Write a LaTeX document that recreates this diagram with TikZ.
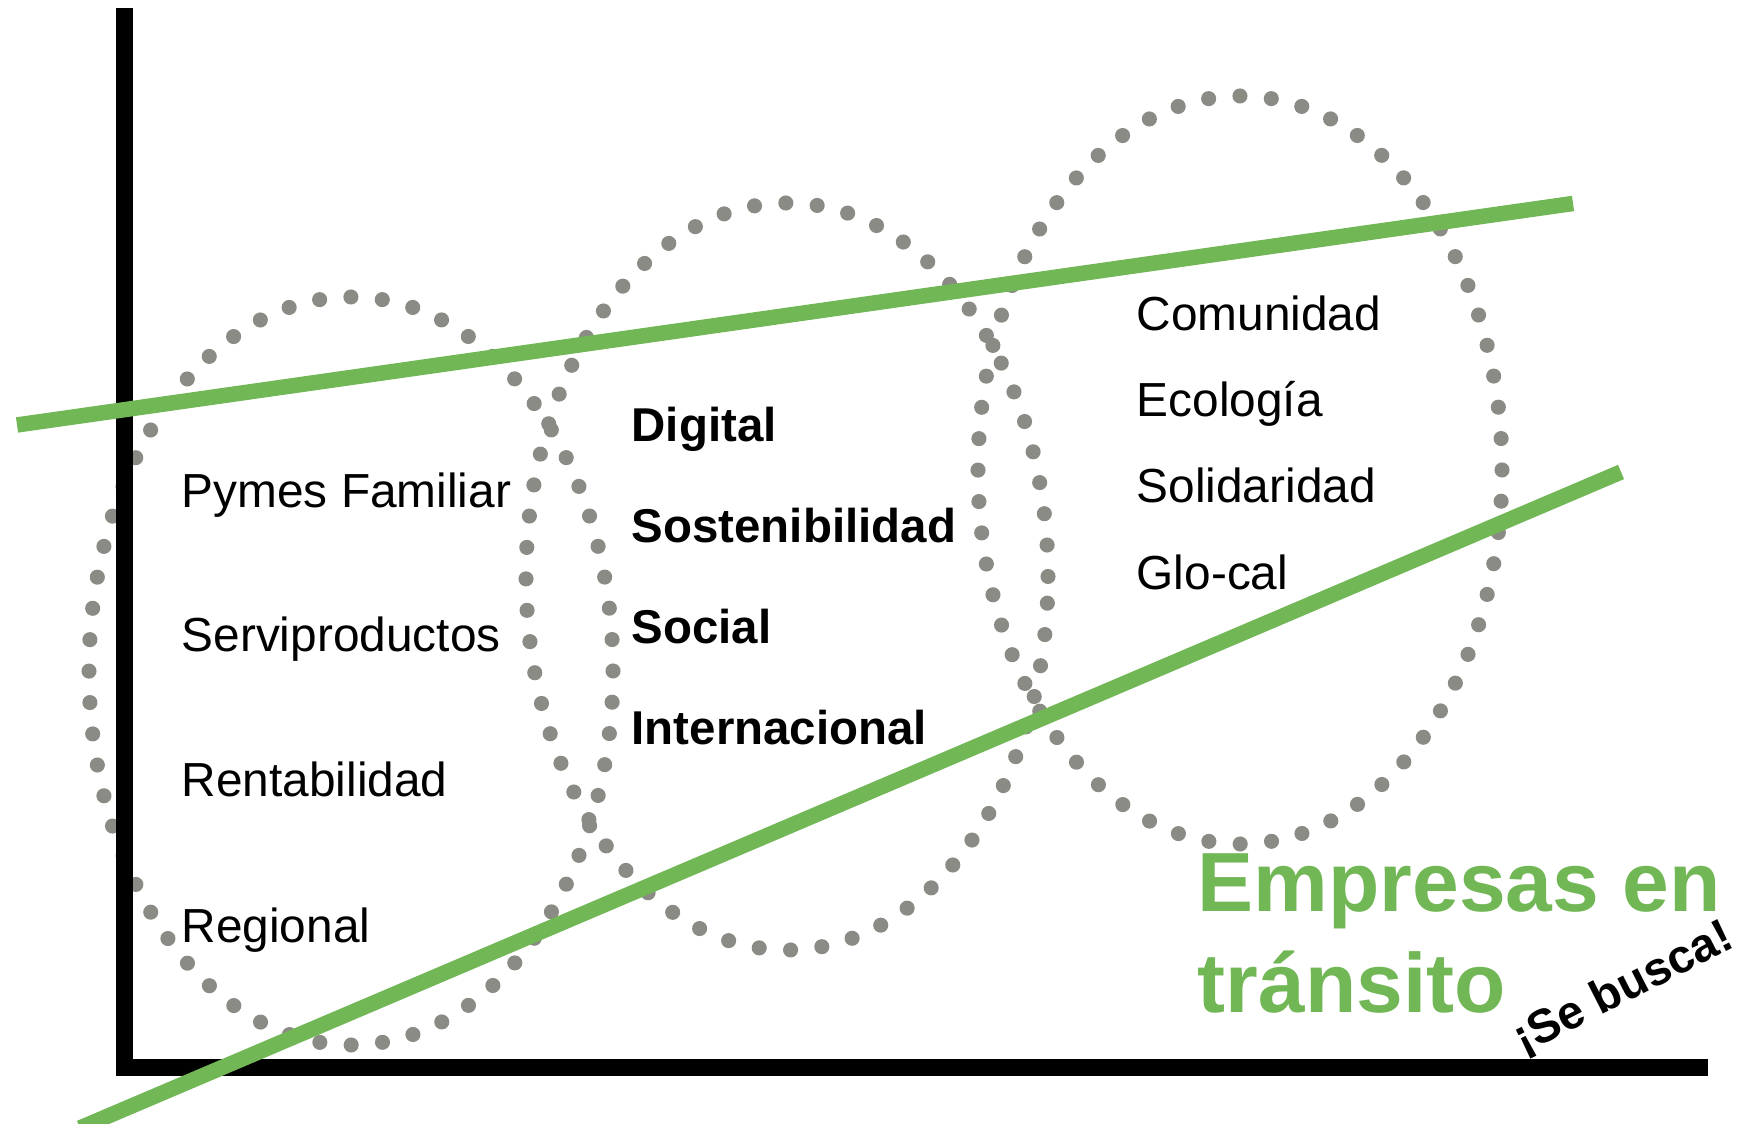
\documentclass[tikz,border=0pt]{standalone}
\usepackage{fontspec}
\setmainfont{Liberation Sans}
\definecolor{verdelinea}{RGB}{114,183,86}
\definecolor{grispunto}{RGB}{139,139,134}

\begin{document}
\begin{tikzpicture}[
    eje/.style={line width=4.8pt,black},
    tendencia/.style={line width=4.4pt,verdelinea},
    puntos/.style={line width=4.3pt,grispunto,line cap=round,dash pattern=on 0pt off 3.147mm},
    etiqueta/.style={anchor=base west,inner sep=0pt,font=\fontsize{13.6}{16}\selectfont},
    clave/.style={etiqueta,font=\fontsize{13.5}{16}\selectfont\bfseries},
    titulo/.style={anchor=base west,inner sep=0pt,verdelinea,font=\fontsize{23.9}{28.7}\selectfont\bfseries}]
    \useasboundingbox (0,0) rectangle (17.39,11.24);
    %the three dotted groups
    \draw[puntos] (3.51,4.53) ellipse [x radius=2.62,y radius=3.74];
    \draw[puntos] (7.87,5.475) ellipse [x radius=2.61,y radius=3.735];
    \draw[puntos] (12.40,6.54) ellipse [x radius=2.62,y radius=3.74];
    %axes
    \draw[eje] (1.245,11.16) -- (1.245,0.48);
    \draw[eje] (1.16,0.565) -- (17.08,0.565);
    %green trend lines
    \draw[tendencia] (0.17,6.99) -- (15.73,9.205);
    \draw[tendencia] (0.80,-0.04) -- (16.21,6.52);
    %left group
    \node[etiqueta] (pymes) at (1.81,6.16) {Pymes Familiar};
    \node[etiqueta] (servi) at (1.81,4.72) {Serviproductos};
    \node[etiqueta] (renta) at (1.81,3.27) {Rentabilidad};
    \node[etiqueta] (regional) at (1.81,1.81) {Regional};
    %middle group
    \node[clave] (digital) at (6.31,6.82) {Digital};
    \node[clave] (sosten) at (6.31,5.81) {Sostenibilidad};
    \node[clave] (social) at (6.31,4.80) {Social};
    \node[clave] (inter) at (6.31,3.79) {Internacional};
    %right group
    \node[etiqueta] (comunidad) at (11.36,7.93) {Comunidad};
    \node[etiqueta] (ecologia) at (11.36,7.07) {Ecología};
    \node[etiqueta] (solidaridad) at (11.36,6.21) {Solidaridad};
    \node[etiqueta] (glocal) at (11.36,5.34) {Glo-cal};
    %title
    \node[titulo] (empresas) at (11.97,2.12) {Empresas en};
    \node[titulo] (transito) at (11.97,1.11) {tránsito};
    \node[inner sep=0pt,rotate=27,font=\fontsize{13.4}{16}\selectfont\bfseries] (sebusca) at (16.24,1.35) {¡Se busca!};
\end{tikzpicture}
\end{document}
